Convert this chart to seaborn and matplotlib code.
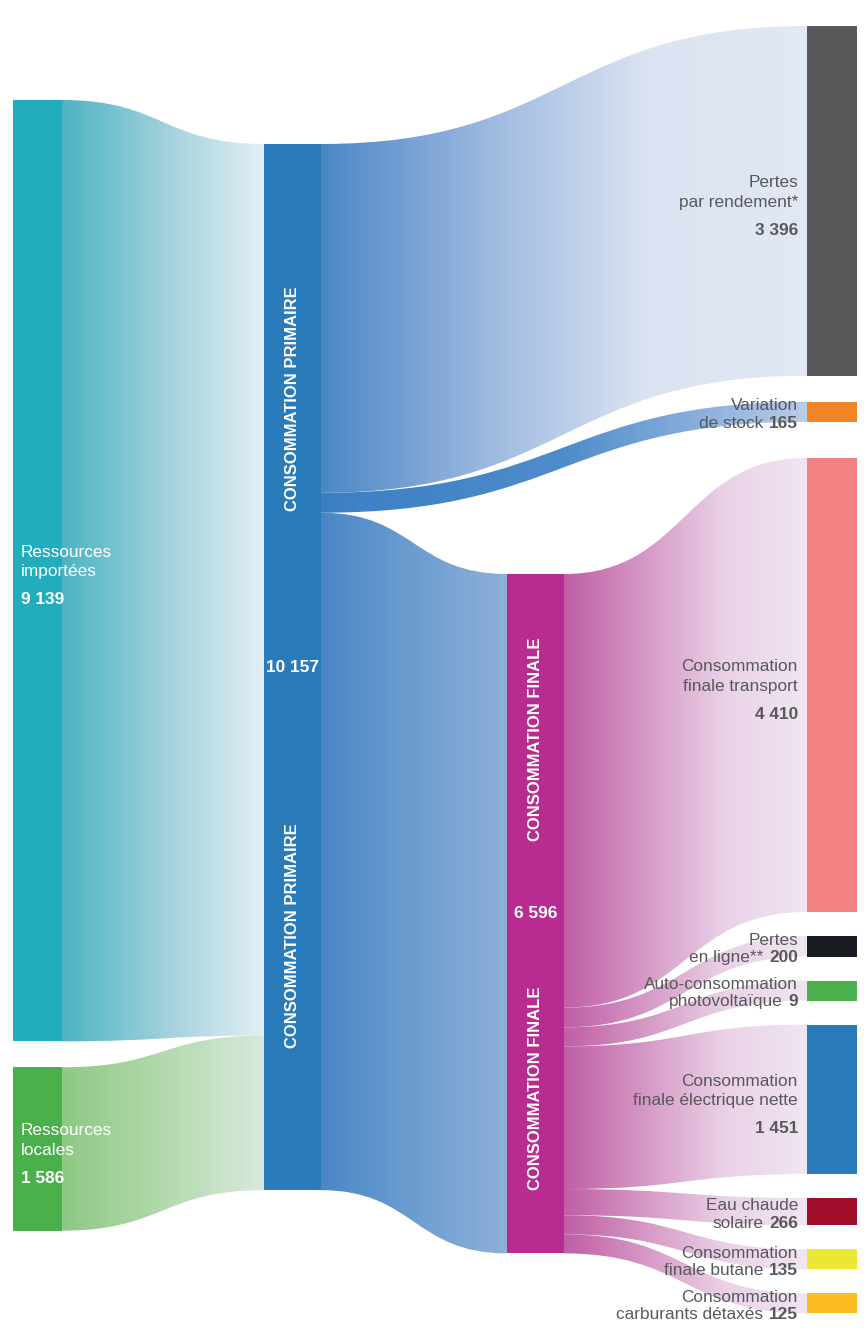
import numpy as np
import matplotlib
matplotlib.use("Agg")
import matplotlib.pyplot as plt
from matplotlib.path import Path
from matplotlib.patches import PathPatch, Rectangle
import seaborn as sns

# ---------------------------------------------------------------
# Energy balance (ktep)
# ---------------------------------------------------------------
node_labels = [
    "Ressources\nimportées", "Ressources\nlocales", "CONSOMMATION PRIMAIRE",
    "Pertes\npar rendement*", "Variation\nde stock", "CONSOMMATION FINALE",
    "Consommation\nfinale transport", "Pertes\nen ligne**",
    "Auto-consommation\nphotovoltaïque", "Consommation\nfinale électrique nette",
    "Eau chaude\nsolaire", "Consommation\nfinale butane",
    "Consommation\ncarburants détaxés",
]
node_values = [9139, 1586, 10157, 3396, 165, 6596, 4410, 200, 9, 1451, 266, 135, 125]

link_sources = [0, 1, 2, 2, 2, 5, 5, 5, 5, 5, 5, 5]
link_targets = [2, 2, 3, 4, 5, 6, 7, 8, 9, 10, 11, 12]
link_values = [9139, 1586, 3396, 165, 6596, 4410, 200, 9, 1451, 266, 135, 125]

# ---------------------------------------------------------------
# Styling / layout
# ---------------------------------------------------------------
node_colors = ["#21adbc", "#4ab04c", "#2a7bba", "#58585a", "#f28428", "#b82b90",
               "#f28282", "#1a1c24", "#4ab04c", "#2a7bba", "#a00d2a", "#ebe834",
               "#fbbb22"]
label_mode = ["left", "left", "inside", "below", "inline", "inside",
              "below", "inline", "inline", "below", "inline", "inline", "inline"]

link_gradients = {
    0: ["#4cb3c2", "#9fd0db", "#e3eff4"],
    1: ["#8dc983", "#b3d9ad", "#d9e9dc"],
    2: ["#4a87c6", "#9ab7de", "#dbe3f2", "#e2e8f4"],
    3: ["#3b7fc3", "#4f8cca", "#b9cce8"],
    4: ["#4a87c6", "#6c9dd0", "#8fb0d9"],
}
magenta_grad = ["#c05ea6", "#d598c5", "#ead2e7", "#f0e6f1"]

W, H = 866, 1335
PX_PER_UNIT = 0.103
MIN_H = 20
col_x = [13, 264, 507, 807]
col_w = [49, 57, 57, 50]
node_col = [0, 0, 1, 3, 3, 2, 3, 3, 3, 3, 3, 3, 3]
col_top = {0: 100, 1: 144, 2: 574, 3: 26}
gap_before = {1: 26, 4: 26, 6: 36, 7: 24, 8: 24, 9: 24, 10: 24, 11: 24, 12: 24}

FS = 12.4
GREY = "#58595b"

sns.set_theme(style="white")
plt.rcParams["font.family"] = ["Liberation Sans", "DejaVu Sans"]

fig = plt.figure(figsize=(W / 100, H / 100), dpi=100)
ax = fig.add_axes([0, 0, 1, 1])
ax.set_xlim(0, W)
ax.set_ylim(H, 0)
ax.axis("off")

# node geometry
heights = [max(v * PX_PER_UNIT, MIN_H) for v in node_values]
tops = [0.0] * len(node_values)
cursor = {}
for i in range(len(node_values)):
    c = node_col[i]
    if c not in cursor:
        cursor[c] = col_top[c]
    else:
        cursor[c] += gap_before.get(i, 24)
    tops[i] = cursor[c]
    cursor[c] += heights[i]

# link widths: target side shares the target node, source side is scaled to fill the source node
n_links = len(link_values)
t_w = [0.0] * n_links
for j in range(n_links):
    t = link_targets[j]
    inflow = sum(link_values[k] for k in range(n_links) if link_targets[k] == t)
    t_w[j] = link_values[j] / inflow * heights[t]
s_w = [0.0] * n_links
for j in range(n_links):
    s = link_sources[j]
    tot = sum(t_w[k] for k in range(n_links) if link_sources[k] == s)
    s_w[j] = t_w[j] / tot * heights[s]

src_off = {}
tgt_off = {}


def link_path(x0, x1, s0, s1, t0, t1, curv=0.5):
    xm0 = x0 + (x1 - x0) * curv
    xm1 = x1 - (x1 - x0) * curv
    verts = [(x0, s0), (xm0, s0), (xm1, t0), (x1, t0), (x1, t1),
             (xm1, t1), (xm0, s1), (x0, s1), (x0, s0)]
    codes = [Path.MOVETO, Path.CURVE4, Path.CURVE4, Path.CURVE4, Path.LINETO,
             Path.CURVE4, Path.CURVE4, Path.CURVE4, Path.CLOSEPOLY]
    return Path(verts, codes)


for j in range(n_links):
    s, t = link_sources[j], link_targets[j]
    so = src_off.get(s, tops[s])
    to = tgt_off.get(t, tops[t])
    s0, s1 = so, so + s_w[j]
    t0, t1 = to, to + t_w[j]
    src_off[s] = s1
    tgt_off[t] = t1
    x0 = col_x[node_col[s]] + col_w[node_col[s]]
    x1 = col_x[node_col[t]]
    path = link_path(x0, x1, s0, s1, t0, t1)
    patch = PathPatch(path, facecolor="none", edgecolor="none", transform=ax.transData)
    ax.add_patch(patch)
    stops = link_gradients.get(j, magenta_grad)
    cols = np.array(sns.blend_palette(stops, n_colors=256))[:, :3][None, :, :]
    ymin = min(s0, t0) - 2
    ymax = max(s1, t1) + 2
    im = ax.imshow(cols, extent=(x0 - 1, x1 + 1, ymax, ymin), aspect="auto",
                   interpolation="bilinear", zorder=1 + j * 0.01)
    im.set_clip_path(patch)

# nodes
for i in range(len(node_values)):
    c = node_col[i]
    ax.add_patch(Rectangle((col_x[c], tops[i]), col_w[c], heights[i],
                           facecolor=node_colors[i], edgecolor="none", zorder=3))

ax.set_xlim(0, W)
ax.set_ylim(H, 0)

renderer = fig.canvas.get_renderer()


def fmt(v):
    return f"{v:,}".replace(",", " ")


CAP = 12.0
VGAP = 28.0

for i in range(len(node_values)):
    c = node_col[i]
    cy = tops[i] + heights[i] / 2
    mode = label_mode[i]
    if mode == "inside":
        cx = col_x[c] + col_w[c] / 2
        ax.text(cx, cy, fmt(node_values[i]), color="white", fontsize=FS,
                fontweight="bold", ha="center", va="center", zorder=5)
        for sgn in (-1, 1):
            ax.text(cx, cy + sgn * 0.257 * heights[i], node_labels[i], color="white",
                    fontsize=FS - 0.4, fontweight="bold", rotation=90,
                    ha="center", va="center", zorder=5)
        continue
    lines = node_labels[i].split("\n")
    n = len(lines)
    block = mode in ("below", "left")
    step = 19.5 if block else 17.5
    span = CAP + (n - 1) * step + (VGAP if block else 0)
    b0 = cy + (4 if block else 1) - span / 2 + CAP
    if mode == "left":
        x = col_x[c] + 8
        for k, ln in enumerate(lines):
            ax.text(x, b0 + k * step, ln, color="white", fontsize=FS,
                    ha="left", va="baseline", zorder=5)
        ax.text(x, b0 + (n - 1) * step + VGAP, fmt(node_values[i]), color="white",
                fontsize=FS, fontweight="bold", ha="left", va="baseline", zorder=5)
        continue
    xr = col_x[c] - 9
    if mode == "below":
        for k, ln in enumerate(lines):
            ax.text(xr, b0 + k * step, ln, color=GREY, fontsize=FS,
                    ha="right", va="baseline", zorder=5)
        ax.text(xr, b0 + (n - 1) * step + VGAP, fmt(node_values[i]), color=GREY,
                fontsize=FS, fontweight="bold", ha="right", va="baseline", zorder=5)
    else:
        for k, ln in enumerate(lines[:-1]):
            ax.text(xr, b0 + k * step, ln, color=GREY, fontsize=FS,
                    ha="right", va="baseline", zorder=5)
        yb = b0 + (n - 1) * step
        tv = ax.text(xr, yb, fmt(node_values[i]), color=GREY, fontsize=FS,
                     fontweight="bold", ha="right", va="baseline", zorder=5)
        wv = tv.get_window_extent(renderer).width
        ax.text(xr - wv - 6, yb, lines[-1], color=GREY, fontsize=FS,
                ha="right", va="baseline", zorder=5)

fig.savefig("out.png", dpi=100, facecolor="white")
